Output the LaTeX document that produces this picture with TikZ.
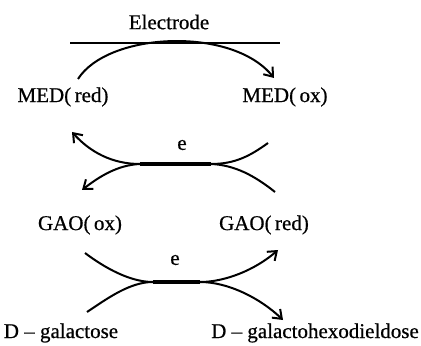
\documentclass[tikz,border=0pt]{standalone}
\usepackage{amsmath}
\usepackage{fontspec}
\setmainfont[FakeBold=0.6]{Liberation Serif}
\usepackage{tikz}
\usetikzlibrary{arrows.meta}

\tikzset{
  curva/.style={line width=1pt},
  seta/.style={curva,-{Straight Barb[length=4pt,width=6pt]}},
  barra/.style={line width=2.4pt},
  rotulo/.style={font=\fontsize{10.5}{13}\selectfont, inner sep=0pt}
}

\begin{document}
\begin{tikzpicture}[x=0.5pt,y=-0.5pt]
\useasboundingbox (0,0) rectangle (421,346);
% Eletrodo
\node[rotulo] (electrode) at (169,22) {Electrode};
\draw[curva] (70,43) -- (280,43);
% Textos
\node[rotulo] (medred) at (63,97) {MED(\,red)};
\node[rotulo] (medox) at (285,97) {MED(\,ox)};
\node[rotulo] (gaoox) at (80,225) {GAO(\,ox)};
\node[rotulo] (gaored) at (264,225) {GAO(\,red)};
\node[rotulo] (gal) at (61,333) {D -- galactose};
\node[rotulo] (galhex) at (315,333) {D -- galactohexodieldose};
\node[rotulo] (e1) at (182,145) {e};
\node[rotulo] (e2) at (175,260) {e};
% Pontos das curvas
\coordinate (a0s) at (78,79);
\coordinate (a0e) at (274,78);
\coordinate (a1s) at (268,143);
\coordinate (a1e) at (72,132);
\coordinate (a2s) at (275,192);
\coordinate (a2e) at (82,190);
\coordinate (b1l) at (140,164);
\coordinate (b1r) at (211,164);
\coordinate (a3s) at (85,253);
\coordinate (a3e) at (278,250);
\coordinate (a4s) at (87,312);
\coordinate (a4e) at (283,320);
\coordinate (b2l) at (153,282);
\coordinate (b2r) at (200,282);
% Arco do eletrodo
\draw[seta] (a0s) .. controls (108,32) and (232,26) .. (a0e);
% Mediador <-> enzima
\draw[seta] (a1s) .. controls (250,156) and (235,164) .. (b1r) -- (b1l) .. controls (112,164) and (90,152) .. (a1e);
\draw[seta] (a2s) .. controls (255,176) and (235,165) .. (b1r) -- (b1l) .. controls (118,165) and (100,176) .. (a2e);
\draw[barra] (b1l) -- (b1r);
% Enzima <-> substrato
\draw[seta] (a3s) .. controls (105,268) and (130,282) .. (b2l) -- (b2r) .. controls (225,282) and (255,270) .. (a3e);
\draw[seta] (a4s) .. controls (108,298) and (130,282) .. (b2l) -- (b2r) .. controls (228,282) and (260,298) .. (a4e);
\draw[barra] (b2l) -- (b2r);
\end{tikzpicture}
\end{document}
